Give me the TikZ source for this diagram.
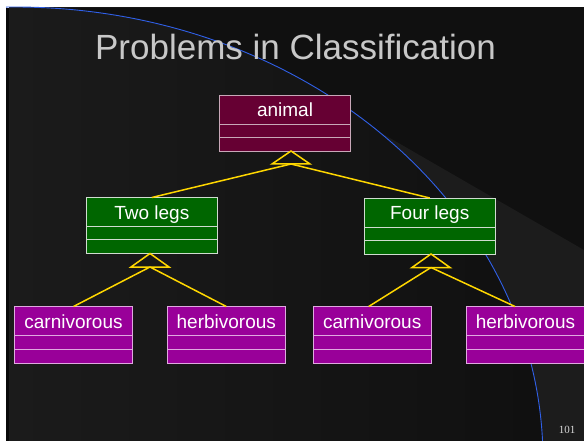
\documentclass[tikz,border=0pt]{standalone}
\usepackage{fontspec}
\setmainfont{Liberation Sans}
\newfontfamily\pagenumfont{Liberation Serif}
\usetikzlibrary{positioning}

\definecolor{bgleft}{HTML}{1B1B1B}
\definecolor{bgright}{HTML}{0F0F0F}
\definecolor{bgcorner}{HTML}{101010}
\definecolor{bgwedge}{HTML}{1C1C1C}
\definecolor{arcblue}{HTML}{3060E8}
\definecolor{titlegrey}{HTML}{C8C8C8}
\definecolor{genyellow}{HTML}{FFD700}
\definecolor{maroonfill}{HTML}{660033}
\definecolor{maroonline}{HTML}{C8A8B8}
\definecolor{greenfill}{HTML}{006600}
\definecolor{greenline}{HTML}{D0DCD0}
\definecolor{purplefill}{HTML}{990099}
\definecolor{purpleline}{HTML}{E0A8E0}

\begin{document}
\begin{tikzpicture}[x=1pt,y=-1pt,semithick,
					gen/.style={draw=genyellow,line width=1.5pt,line join=miter}]
					\tikzstyle{classname}=[rectangle,draw,outer sep=0pt,inner sep=0pt,minimum height=29pt,
					text height=14pt,text depth=0pt,text=white,font=\fontsize{19}{19}\selectfont,line width=0.8pt]
					\tikzstyle{classpart}=[rectangle,draw,outer sep=0pt,inner sep=0pt,minimum height=13pt,line width=0.8pt]
					\tikzstyle{superclass}=[fill=maroonfill,draw=maroonline,minimum width=131.4pt]
					\tikzstyle{legclass}=[fill=greenfill,draw=greenline,minimum width=131pt]
					\tikzstyle{dietclass}=[fill=purplefill,draw=purpleline,minimum width=117.6pt]
					
					% slide background
					\useasboundingbox[fill=white] (0,0) rectangle (584,441);
					\shade[left color=bgleft,right color=bgright] (9,8) rectangle (584,441);
					\fill[black!97] (6,8) rectangle (9.3,441);
					\begin{scope}
					\clip (310,92) -- (584,250) -- (584,0) -- (0,0) -- cycle;
					\fill[bgcorner,even odd rule] (6,8) rectangle (584,441) (15,460) ellipse [x radius=528,y radius=453];
					\end{scope}
					\begin{scope}
					\clip (310,92) -- (584,250) -- (584,441) -- (300,441) -- cycle;
					\fill[bgwedge,even odd rule] (6,8) rectangle (584,441) (15,460) ellipse [x radius=528,y radius=453];
					\end{scope}
					\begin{scope}
					\clip (6,6.5) rectangle (584,441);
					\draw[arcblue,line width=0.9pt] (15,460) ellipse [x radius=528,y radius=453];
					\end{scope}
					
					\node[text=titlegrey,font=\fontsize{35}{35}\selectfont,anchor=base] (title) at (295.5,60) {Problems in Classification};
					
					% classes
					\node[classname,superclass] (animal) at (285,109.5) {animal};
					\node[classpart,superclass,below=0pt of animal] (animal_a) {};
					\node[classpart,superclass,below=0pt of animal_a,minimum height=14pt] (animal_o) {};
					
					\node[classname,legclass] (twolegs) at (151.8,212) {Two legs};
					\node[classpart,legclass,below=0pt of twolegs] (twolegs_a) {};
					\node[classpart,legclass,below=0pt of twolegs_a,minimum height=14pt] (twolegs_o) {};
					
					\node[classname,legclass] (fourlegs) at (429.7,212.5) {Four legs};
					\node[classpart,legclass,below=0pt of fourlegs] (fourlegs_a) {};
					\node[classpart,legclass,below=0pt of fourlegs_a,minimum height=14pt] (fourlegs_o) {};
					
					\node[classname,dietclass] (carn_two) at (73.5,321) {carnivorous};
					\node[classpart,dietclass,below=0pt of carn_two,minimum height=13.5pt] (carn_two_a) {};
					\node[classpart,dietclass,below=0pt of carn_two_a,minimum height=14pt] (carn_two_o) {};
					
					\node[classname,dietclass] (herb_two) at (226.3,321) {herbivorous};
					\node[classpart,dietclass,below=0pt of herb_two,minimum height=13.5pt] (herb_two_a) {};
					\node[classpart,dietclass,below=0pt of herb_two_a,minimum height=14pt] (herb_two_o) {};
					
					\node[classname,dietclass] (carn_four) at (372.2,321) {carnivorous};
					\node[classpart,dietclass,below=0pt of carn_four,minimum height=13.5pt] (carn_four_a) {};
					\node[classpart,dietclass,below=0pt of carn_four_a,minimum height=14pt] (carn_four_o) {};
					
					\node[classname,dietclass] (herb_four) at (525.5,321) {herbivorous};
					\node[classpart,dietclass,below=0pt of herb_four,minimum height=13.5pt] (herb_four_a) {};
					\node[classpart,dietclass,below=0pt of herb_four_a,minimum height=14pt] (herb_four_o) {};
					
					% generalisation triangles
					\coordinate (animal_tip) at ([xshift=6pt]animal_o.south);
					\coordinate (animal_base) at ([yshift=-13pt]animal_tip);
					\draw[gen] (animal_tip) -- ++(-19,13) -- ++(38,0) -- cycle;
					\coordinate (twolegs_tip) at ([xshift=-1.8pt]twolegs_o.south);
					\coordinate (twolegs_base) at ([yshift=-13.5pt]twolegs_tip);
					\draw[gen] (twolegs_tip) -- ++(-19,13.5) -- ++(38,0) -- cycle;
					\coordinate (fourlegs_tip) at ([xshift=1.3pt]fourlegs_o.south);
					\coordinate (fourlegs_base) at ([yshift=-13.5pt]fourlegs_tip);
					\draw[gen] (fourlegs_tip) -- ++(-19,13.5) -- ++(38,0) -- cycle;
					
					\draw[gen] (twolegs.north) -- (animal_base);
					\draw[gen] (fourlegs.north) -- (animal_base);
					\draw[gen] (carn_two.north) -- (twolegs_base);
					\draw[gen] (herb_two.north) -- (twolegs_base);
					\draw[gen] ([xshift=-3.5pt]carn_four.north) -- (fourlegs_base);
					\draw[gen] ([xshift=-10.5pt]herb_four.north) -- (fourlegs_base);
					
					\node[text=white!85!black,font=\pagenumfont\fontsize{11}{11}\selectfont] (pagenum) at (567,430) {101};
\end{tikzpicture}
\end{document}
